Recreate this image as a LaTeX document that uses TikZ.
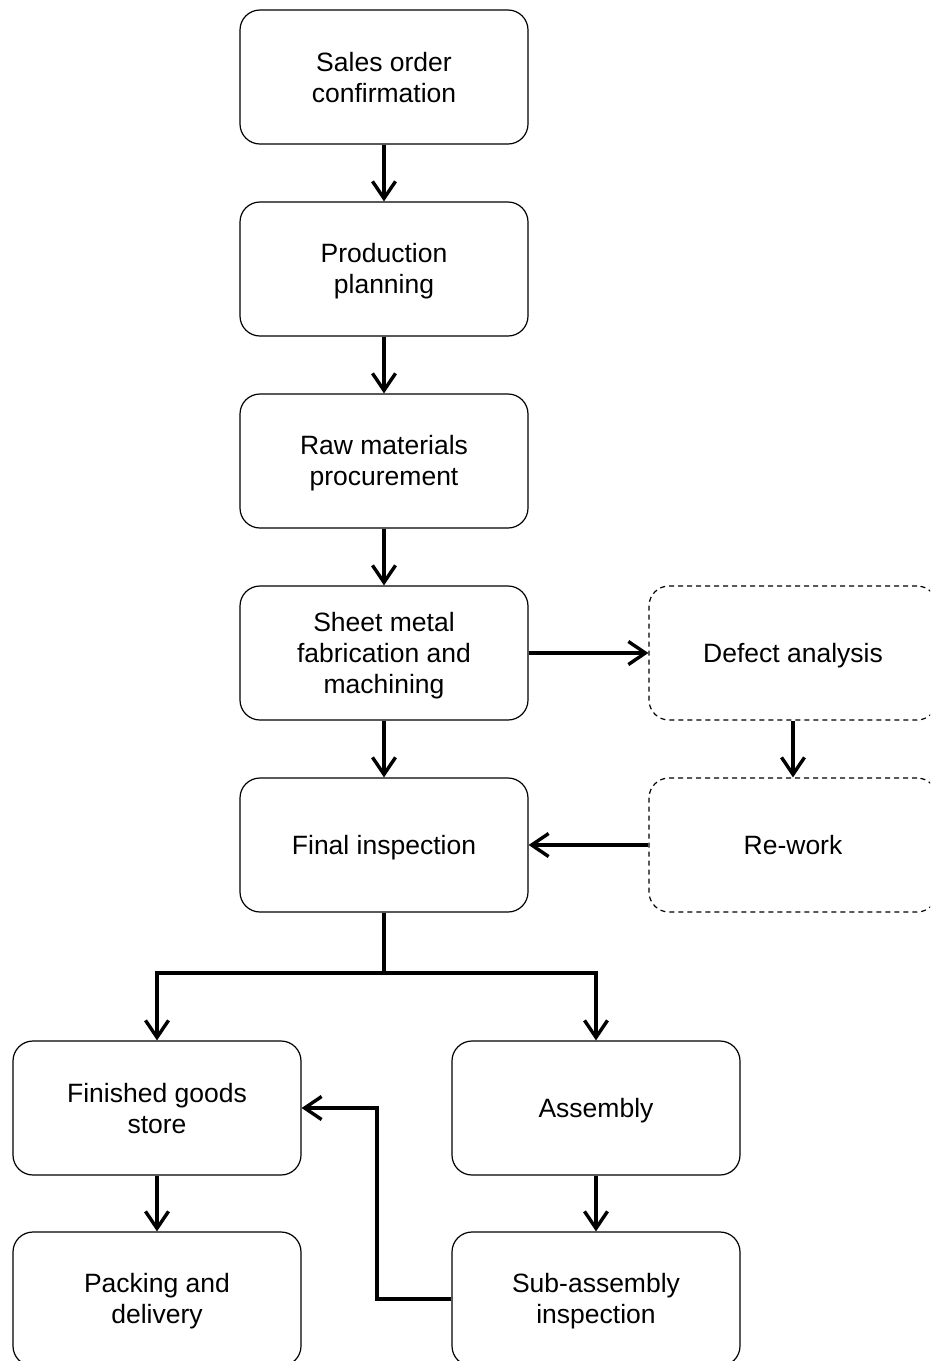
\documentclass[tikz,border=0pt]{standalone}
\usepackage{fontspec}
\setmainfont{Liberation Sans}
\usetikzlibrary{arrows.meta}
\newcommand\bs{\vrule height 24pt depth 5pt width 0pt}
\begin{document}
\begin{tikzpicture}[x=1pt,y=-1pt,
  box/.style={draw, line width=1.2pt, rounded corners=20pt, minimum width=288pt, minimum height=134pt,
    align=center, font=\fontsize{26.5}{31}\selectfont, inner sep=0pt},
  dbox/.style={box, dash pattern=on 5pt off 4pt},
  conn/.style={line width=3.4pt, -{Straight Barb[length=17pt,width=23pt]}},
  plainconn/.style={line width=3.4pt}
  ]
\useasboundingbox (0,0) rectangle (930,1361);
\clip (0,0) rectangle (930,1361);
\fill[white] (0,0) rectangle (930,1361);

\node[box] (sales) at (384,77) {\bs Sales order\\confirmation\bs};
\node[box] (plan) at (384,269) {\bs Production\\planning\bs};
\node[box] (raw) at (384,461) {\bs Raw materials\\procurement\bs};
\node[box] (sheet) at (384,653) {\bs Sheet metal\\fabrication and\\machining\bs};
\node[box] (final) at (384,845) {\bs Final inspection\bs};
\node[dbox] (defect) at (793,653) {\bs Defect analysis\bs};
\node[dbox] (rework) at (793,845) {\bs Re-work\bs};
\node[box] (fg) at (157,1108) {\bs Finished goods\\store\bs};
\node[box] (asm) at (596,1108) {\bs Assembly\bs};
\node[box] (pack) at (157,1299) {\bs Packing and\\delivery\bs};
\node[box] (sub) at (596,1299) {\bs Sub-assembly\\inspection\bs};

\draw[conn] (sales) -- (plan);
\draw[conn] (plan) -- (raw);
\draw[conn] (raw) -- (sheet);
\draw[conn] (sheet) -- (final);
\draw[conn] (sheet) -- (defect);
\draw[conn] (defect) -- (rework);
\draw[conn] (rework) -- (final);

\coordinate (split) at (384,973);
\draw[plainconn] (final.south) -- (split);
\draw[conn] (split) -| (fg.north);
\draw[conn] (split) -| (asm.north);
\draw[conn] (fg) -- (pack);
\draw[conn] (asm) -- (sub);
\coordinate (ret) at (377,1108);
\draw[conn] (sub.west) -| (ret) -- (fg.east);
\end{tikzpicture}
\end{document}
